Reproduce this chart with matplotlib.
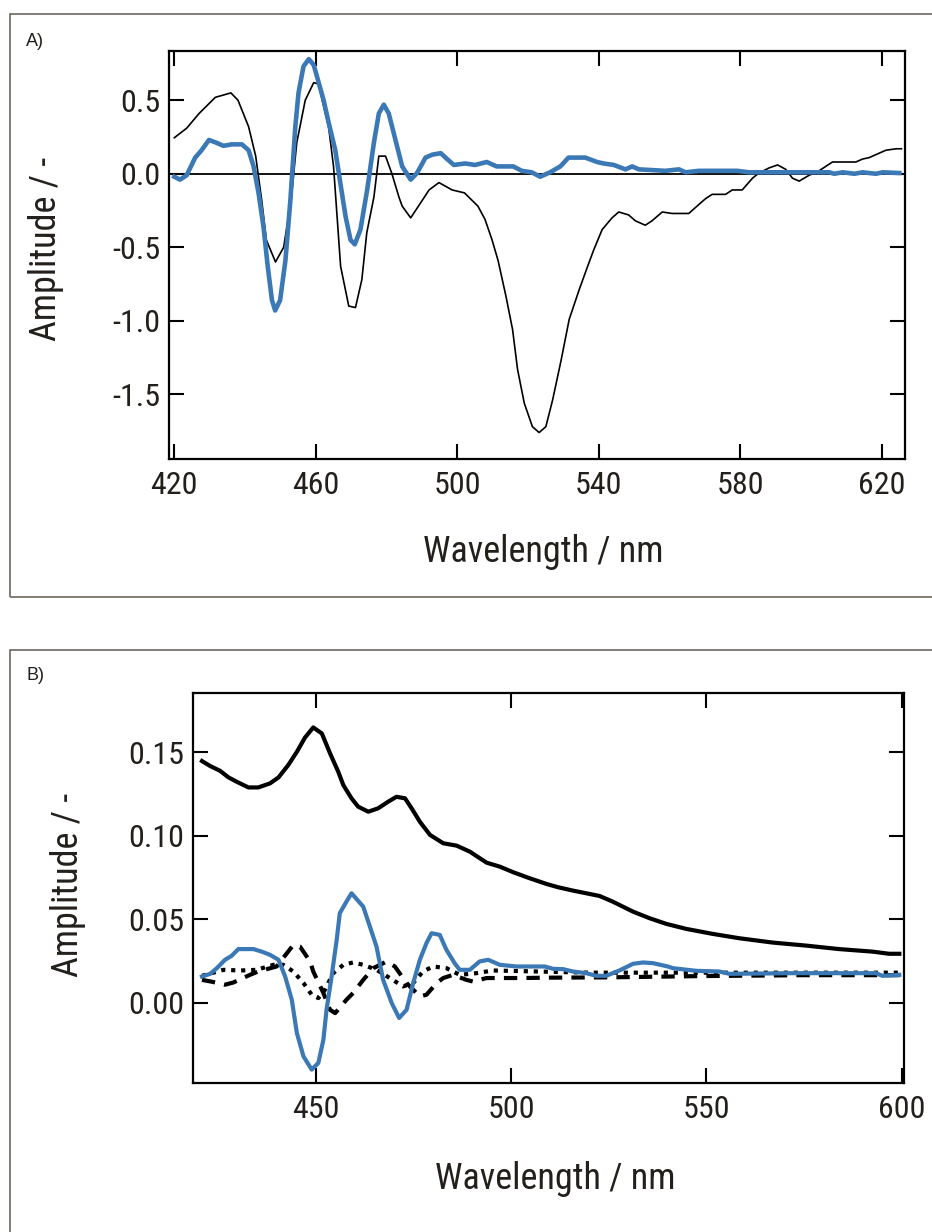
import matplotlib
matplotlib.use("Agg")
import matplotlib.pyplot as plt
from matplotlib import font_manager
from matplotlib.patches import Rectangle

# ---------------- data ----------------
# Panel A
a_black_wl = [420, 423.5, 427, 431.6, 436, 438, 441, 443, 444.7, 446, 448.6, 450.9, 453, 454.6, 457,
              459.4, 460.8, 462, 463.6, 465, 467, 469.3, 471.2, 473, 474.4, 476.4, 477.8, 479.7, 481.5,
              483.5, 484.4, 486.8, 489, 492, 494.8, 498.5, 502, 505.8, 507.8, 509.8, 511.5, 513.7, 515.6,
              517.0, 518.9, 521.2, 523.1, 525.0, 526.9, 529.3, 531.6, 534.4, 536.8, 538.5, 540.9, 543.7,
              545.6, 548.4, 550.3, 553.1, 555.0, 557.9, 560.7, 565.4, 568.2, 570.1, 572.0, 575.8, 577.7,
              580.5, 583.4, 585.2, 588.1, 590.5, 592.8, 594.7, 596.6, 599.4, 602.2, 604.1, 606.0, 608.9,
              612.6, 614.5, 616.4, 619.2, 621.1, 624.0, 625.5]
a_black_amp = [0.245, 0.31, 0.41, 0.52, 0.55, 0.50, 0.32, 0.12, -0.18, -0.45, -0.60, -0.50, -0.18, 0.21,
               0.50, 0.62, 0.61, 0.48, 0.32, 0.05, -0.63, -0.90, -0.91, -0.72, -0.40, -0.16, 0.12, 0.12,
               0.0, -0.16, -0.22, -0.30, -0.22, -0.11, -0.06, -0.11, -0.13, -0.22, -0.31, -0.45, -0.59,
               -0.83, -1.06, -1.33, -1.56, -1.72, -1.76, -1.72, -1.54, -1.27, -0.99, -0.79, -0.63, -0.52,
               -0.38, -0.30, -0.26, -0.28, -0.32, -0.35, -0.32, -0.26, -0.27, -0.27, -0.21, -0.17, -0.14,
               -0.14, -0.11, -0.11, -0.03, 0.005, 0.04, 0.06, 0.03, -0.03, -0.05, -0.01, 0.02, 0.05, 0.08,
               0.08, 0.08, 0.10, 0.11, 0.14, 0.16, 0.17, 0.17]

a_blue_wl = [420, 421.6, 423.5, 425.9, 427.7, 429.8, 432.0, 433.9, 436.2, 439.1, 441.0, 442.4, 443.8,
             445.2, 446.4, 447.6, 448.5, 449.9, 451.4, 452.8, 454.2, 455.1, 456.5, 458.0, 459.4, 460.8,
             462.2, 463.6, 465.5, 466.9, 468.4, 469.8, 471.0, 472.6, 474.5, 476.4, 477.8, 479.2, 480.6,
             482.5, 484.4, 486.8, 488.6, 491.0, 492.9, 495.3, 497.1, 499.0, 502.2, 505.0, 508.3, 511.1,
             515.8, 518.2, 521.0, 523.4, 526.2, 529.1, 531.4, 536.1, 539.5, 541.3, 544.2, 547.5, 549.4,
             551.3, 558.8, 562.6, 564.5, 568.2, 573.9, 579.1, 582.4, 605.1, 606.5, 608.9, 612.2, 614.5,
             618.3, 620.2, 624.9]
a_blue_amp = [-0.02, -0.04, -0.01, 0.11, 0.16, 0.23, 0.21, 0.19, 0.20, 0.20, 0.16, 0.05, -0.13, -0.36,
              -0.63, -0.86, -0.93, -0.86, -0.59, -0.18, 0.32, 0.55, 0.73, 0.78, 0.74, 0.62, 0.50, 0.35,
              0.16, -0.06, -0.29, -0.45, -0.48, -0.38, -0.11, 0.21, 0.41, 0.47, 0.41, 0.23, 0.05, -0.04,
              0.005, 0.11, 0.13, 0.14, 0.10, 0.06, 0.07, 0.06, 0.08, 0.05, 0.05, 0.02, 0.01, -0.02, 0.01,
              0.05, 0.11, 0.11, 0.08, 0.07, 0.06, 0.03, 0.05, 0.03, 0.02, 0.03, 0.01, 0.02, 0.02, 0.02,
              0.01, 0.01, 0.0, 0.01, 0.0, 0.01, 0.0, 0.01, 0.005]

a_xticks = [420, 460, 500, 540, 580, 620]
a_yticks = [-1.5, -1.0, -0.5, 0.0, 0.5]

# Panel B
b_black_wl = [420.8, 422.9, 425.4, 427.6, 429.7, 432.7, 435.2, 438.2, 440.4, 442.9, 445.1, 447.2, 449.3,
              451.5, 453.6, 455.7, 457.0, 459.1, 460.8, 463.4, 465.9, 468.5, 470.6, 472.8, 474.5, 476.6,
              479.2, 482.6, 486.0, 489.4, 493.7, 497.1, 500.5, 504.7, 509.0, 512.0, 515.8, 522.6, 526.0,
              531.2, 535.4, 539.7, 544.8, 551.6, 558.4, 567.0, 575.5, 584.0, 592.5, 596.8, 599.4]
b_black_amp = [0.1446, 0.1416, 0.1388, 0.1348, 0.1322, 0.1288, 0.1288, 0.1312, 0.1348, 0.1422, 0.1501,
               0.1587, 0.1647, 0.1611, 0.1492, 0.1382, 0.1302, 0.1223, 0.1173, 0.1143, 0.1163, 0.1203,
               0.1232, 0.1223, 0.1163, 0.1083, 0.1004, 0.0954, 0.0940, 0.0904, 0.0838, 0.0814, 0.0781,
               0.0745, 0.0711, 0.0691, 0.0671, 0.0639, 0.0605, 0.0545, 0.0506, 0.0472, 0.0442, 0.0412,
               0.0386, 0.0360, 0.0342, 0.0321, 0.0306, 0.0293, 0.0293]

b_blue_wl = [420.8, 422.9, 424.6, 426.7, 428.4, 430.1, 434.0, 436.1, 438.2, 440.4, 442.1, 443.8, 445.1,
             446.8, 448.9, 450.6, 451.9, 452.7, 454.0, 455.3, 456.1, 457.8, 459.1, 462.1, 463.8, 465.5,
             467.2, 469.4, 471.3, 473.2, 474.9, 476.6, 478.3, 479.6, 481.7, 483.4, 485.5, 486.8, 489.4,
             491.9, 494.1, 497.1, 501.3, 508.6, 510.7, 513.3, 515.8, 519.2, 521.8, 524.3, 527.7, 531.2,
             533.7, 536.3, 540.1, 541.4, 547.4, 553.3, 555.9, 572.0, 593.4, 595.1, 599.4]
b_blue_amp = [0.0157, 0.0173, 0.0207, 0.0257, 0.0281, 0.0321, 0.0321, 0.0306, 0.0287, 0.0257, 0.0157,
              0.0018, -0.0181, -0.0321, -0.0400, -0.0360, -0.0221, -0.0042, 0.0157, 0.0376, 0.0536,
              0.0605, 0.0655, 0.0575, 0.0456, 0.0336, 0.0137, -0.0002, -0.0091, -0.0042, 0.0118, 0.0257,
              0.0357, 0.0416, 0.0406, 0.0317, 0.0237, 0.0197, 0.0197, 0.0247, 0.0257, 0.0227, 0.0217,
              0.0217, 0.0203, 0.0201, 0.0187, 0.0177, 0.0161, 0.0161, 0.0193, 0.0233, 0.0241, 0.0237,
              0.0217, 0.0207, 0.0191, 0.0187, 0.0173, 0.0177, 0.0177, 0.0161, 0.0167]

b_dash_wl = [420.8, 423.5, 426.7, 428.8, 433.1, 435.2, 439.9, 444.2, 445.9, 448.5, 449.3, 451.9, 453.6,
             454.9, 457.8, 459.5, 462.1, 464.7, 468.1, 470.2, 473.2, 476.6, 478.3, 480.9, 482.6, 485.1,
             488.5, 490.2, 493.7, 497.1, 503.0, 509.0, 525.0, 550.0, 575.0, 600.0]
b_dash_amp = [0.0137, 0.0125, 0.0108, 0.0121, 0.0167, 0.0187, 0.0217, 0.0346, 0.0336, 0.0247, 0.0187,
              0.0058, -0.0042, -0.0062, 0.0018, 0.0058, 0.0137, 0.0207, 0.0247, 0.0217, 0.0118, 0.0038,
              0.0048, 0.0118, 0.0148, 0.0167, 0.0137, 0.0127, 0.0148, 0.0148, 0.0148, 0.0150, 0.0152,
              0.0160, 0.0165, 0.0165]

b_dot_wl = [420.8, 426.3, 430.6, 434.8, 439.1, 441.6, 444.2, 446.8, 448.9, 450.6, 452.3, 454.4, 457.0,
            459.5, 462.1, 465.5, 468.9, 472.3, 474.9, 477.4, 480.0, 483.4, 486.8, 491.1, 495.3, 520.0,
            560.0, 600.0]
b_dot_amp = [0.0161, 0.0197, 0.0193, 0.0197, 0.0227, 0.0227, 0.0187, 0.0118, 0.0048, 0.0028, 0.0078,
             0.0177, 0.0227, 0.0241, 0.0227, 0.0197, 0.0148, 0.0098, 0.0118, 0.0187, 0.0217, 0.0207,
             0.0167, 0.0177, 0.0193, 0.0180, 0.0180, 0.0180]

b_xticks = [450, 500, 550, 600]
b_yticks = [0.00, 0.05, 0.10, 0.15]

# ---------------- style ----------------
available = {f.name for f in font_manager.fontManager.ttflist}
narrow = "DejaVu Sans"
for cand in ["Liberation Sans Narrow", "DejaVu Sans Condensed", "Roboto Condensed",
             "Open Sans Condensed", "Liberation Sans"]:
    if cand in available:
        narrow = cand
        break
plain = "Liberation Sans" if "Liberation Sans" in available else "DejaVu Sans"

TXT = "#231f1a"
BLUE = "#3b78b6"
W, H = 932, 1232
fig = plt.figure(figsize=(W / 100, H / 100), dpi=100)


def px_axes(left, top, right, bottom):
    return fig.add_axes([left / W, 1 - bottom / H, (right - left) / W, (bottom - top) / H])


def style_axes(ax):
    for s in ax.spines.values():
        s.set_linewidth(1.6)
        s.set_color("black")
    ax.tick_params(which="both", direction="in", length=11, width=1.5,
                   top=True, right=True, labelsize=23, labelcolor=TXT, colors="black")
    ax.tick_params(axis="x", pad=9)
    ax.tick_params(axis="y", pad=6)
    for lab in ax.get_xticklabels() + ax.get_yticklabels():
        lab.set_family(narrow)


# outer frames
fig.add_artist(Rectangle((10 / W, 1 - 597 / H), 1.2, (597 - 14) / H, transform=fig.transFigure,
                         fill=False, edgecolor="#6e665e", linewidth=1.2, clip_on=False))
fig.add_artist(Rectangle((10 / W, -0.2), 1.2, 0.2 + (1232 - 650) / H, transform=fig.transFigure,
                         fill=False, edgecolor="#6e665e", linewidth=1.2, clip_on=False))

fig.text(26 / W, 1 - 41 / H, "A)", family=plain, fontsize=13, color=TXT, va="center", ha="left")
fig.text(26 / W, 1 - 675 / H, "B)", family=plain, fontsize=13, color=TXT, va="center", ha="left")

# ---- Panel A ----
axA = px_axes(169, 51, 905, 459)
axA.axhline(0, color="black", lw=1.3, zorder=1)
axA.plot(a_black_wl, a_black_amp, color="black", lw=1.2, zorder=2)
axA.plot(a_blue_wl, a_blue_amp, color=BLUE, lw=3.3, zorder=3, solid_joinstyle="round")
axA.set_xlim(418.5, 626.5)
axA.set_ylim(-1.94, 0.835)
axA.set_xticks(a_xticks)
axA.set_yticks(a_yticks)
axA.set_yticklabels([f"{v:.1f}" for v in a_yticks])
style_axes(axA)
axA.set_xlabel("Wavelength / nm", family=narrow, fontsize=26, color=TXT)
axA.set_ylabel("Amplitude / -", family=narrow, fontsize=26, color=TXT)
axA.xaxis.set_label_coords((543 - 169) / 736, (459 - 534) / 408)
axA.yaxis.set_label_coords((64 - 169) / 736, (459 - 249) / 408)

# ---- Panel B ----
axB = px_axes(193, 693, 904, 1083)
axB.plot(b_black_wl, b_black_amp, color="black", lw=3.0, zorder=3, solid_joinstyle="round")
axB.plot(b_dash_wl, b_dash_amp, color="black", lw=3.0, linestyle=(0, (3.2, 2.2)), zorder=2,
         dash_capstyle="butt")
axB.plot(b_dot_wl, b_dot_amp, color="black", lw=3.0, linestyle=(0, (1, 1.4)), zorder=2,
         dash_capstyle="butt")
axB.plot(b_blue_wl, b_blue_amp, color=BLUE, lw=3.0, zorder=4, solid_joinstyle="round")
axB.set_xlim(418.5, 600.6)
axB.set_ylim(-0.048, 0.1853)
axB.set_xticks(b_xticks)
axB.set_yticks(b_yticks)
axB.set_yticklabels([f"{v:.2f}" for v in b_yticks])
style_axes(axB)
axB.set_xlabel("Wavelength / nm", family=narrow, fontsize=26, color=TXT)
axB.set_ylabel("Amplitude / -", family=narrow, fontsize=26, color=TXT)
axB.xaxis.set_label_coords((555 - 193) / 711, (1083 - 1161) / 390)
axB.yaxis.set_label_coords((86 - 193) / 711, (1083 - 885) / 390)

fig.savefig("out.png", dpi=100)
